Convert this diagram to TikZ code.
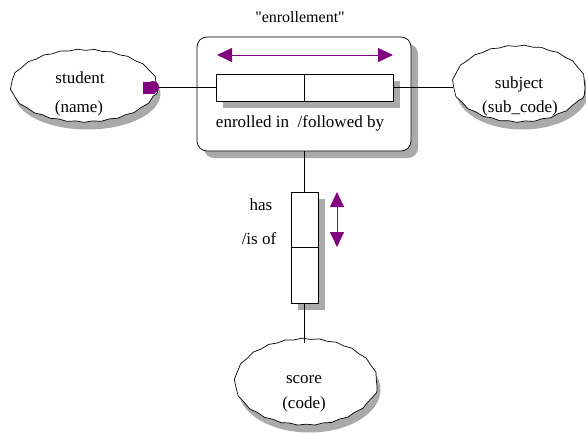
\documentclass[tikz,border=0pt]{standalone}
\usepackage{fontspec}
\setmainfont{Liberation Serif}
\usetikzlibrary{arrows.meta,decorations.pathmorphing,shapes.geometric,shadows}

\definecolor{relpurple}{RGB}{128,0,128}
\definecolor{shadowgray}{RGB}{170,170,170}

\tikzset{
  base/.style={line width=0.7pt},
  entity/.style={base, ellipse, draw, fill=white, inner sep=0pt,
    decorate, decoration={snake, segment length=17pt, amplitude=0.6pt}},
  entityshadow/.style={fill=shadowgray},
  relframe/.style={base, draw, fill=white, rounded corners=10pt,
    drop shadow={shadow xshift=7pt, shadow yshift=-7pt, fill=shadowgray, opacity=1}},
  cell/.style={base, draw, fill=white, inner sep=0pt,
    drop shadow={shadow xshift=7pt, shadow yshift=-7pt, fill=shadowgray, opacity=1}},
  link/.style={base},
  dirarrow/.style={relpurple, line width=0.8pt,
    {Triangle[length=15pt,width=14pt]}-{Triangle[length=15pt,width=14pt]}},
  caption/.style={inner sep=0pt, anchor=base, font=\fontsize{17}{20}\selectfont},
}

\begin{document}
\begin{tikzpicture}[x=1pt, y=-1pt]
\useasboundingbox (0,0) rectangle (586,434);

% relationship frame
\node[relframe, minimum width=214pt, minimum height=114pt] (frame) at (304,94) {};
\node[caption, font=\fontsize{16}{20}\selectfont] (title) at (300,22) {\textquotedbl enrollement\textquotedbl};

% entity centres
\coordinate (studentC) at (84,90);
\coordinate (subjectC) at (519,88);
\coordinate (scoreC) at (306,386);

% entity shadows
\fill[entityshadow] ([shift={(3.5,3.5)}]studentC) ellipse (73 and 36);
\fill[entityshadow] ([shift={(3.5,3.5)}]subjectC) ellipse (66 and 38);
\fill[entityshadow] ([shift={(3.5,3.5)}]scoreC) ellipse (71 and 43);

% entities
\node[entity, minimum width=146pt, minimum height=72pt] (student) at (studentC) {};
\node[entity, minimum width=132pt, minimum height=76pt] (subject) at (subjectC) {};
\node[entity, minimum width=142pt, minimum height=86pt] (score) at (scoreC) {};

\node[caption] (studentA) at (80,83) {student};
\node[caption] (studentB) at (79,112) {(name)};
\node[caption] (subjectA) at (519,88) {subject};
\node[caption] (subjectB) at (520,112) {(sub\_code)};
\node[caption] (scoreA) at (304,383) {score};
\node[caption] (scoreB) at (304,408) {(code)};

% horizontal relationship cells
\node[cell, minimum width=88pt, minimum height=27pt] (relL) at (260,87.5) {};
\node[cell, minimum width=89pt, minimum height=27pt] (relR) at (348.5,87.5) {};

% vertical relationship cells
\node[cell, minimum width=27pt, minimum height=55pt] (hasT) at (304.5,219.5) {};
\node[cell, minimum width=27pt, minimum height=56pt] (hasB) at (304.5,275) {};

% connectors
\draw[link] (student.east |- relL.west) -- (relL.west);
\draw[link] (relR.east) -- (relR.east -| subject.west);
\draw[link] (frame.south -| hasT.north) -- (hasT.north);
\draw[link] (hasB.south) -- (hasB.south |- score.north);

% optionality marker at the student end
\node[fill=relpurple, minimum size=12pt, inner sep=0pt] (mksq) at (149,87.5) {};
\node[circle, fill=relpurple, minimum size=12pt, inner sep=0pt] (mkci) at (153,87) {};

% reading direction arrows
\coordinate (hl) at (217,55);
\coordinate (hr) at (393,55);
\draw[dirarrow] (hl) -- (hr);
\coordinate (vt) at (337,192);
\coordinate (vb) at (337,247);
\draw[dirarrow] (vt) -- (vb);

% role labels
\node[caption] (roles) at (300,127) {enrolled in \ /followed by};
\node[caption] (has) at (261,210) {has};
\node[caption] (isof) at (259,244) {/is of};
\end{tikzpicture}
\end{document}
